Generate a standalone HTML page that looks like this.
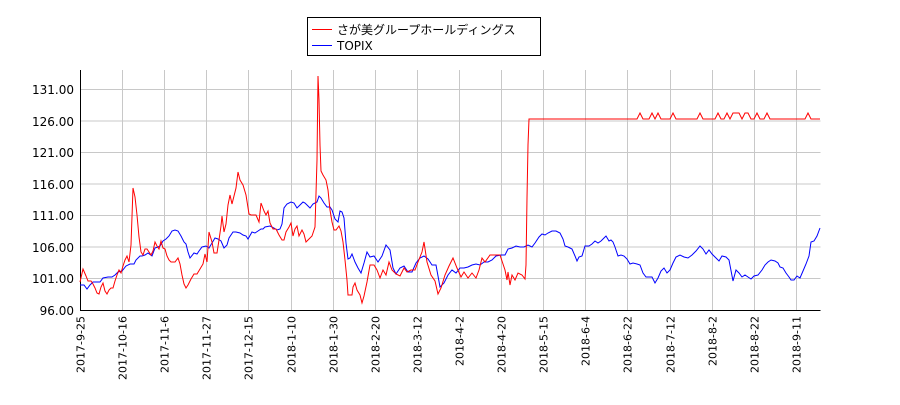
<!DOCTYPE html>
<html><head><meta charset="utf-8"><style>
body{margin:0;background:#fff;width:900px;height:400px;overflow:hidden;font-family:"Liberation Sans","DejaVu Sans",sans-serif}
</style></head><body>
<svg width="900" height="400" viewBox="0 0 900 400" xmlns="http://www.w3.org/2000/svg" font-family="'DejaVu Sans','Liberation Sans',sans-serif">
<rect width="900" height="400" fill="#fff"/>
<g stroke="#c8c8c8" stroke-width="1">
<line x1="80.5" y1="89.5" x2="820.5" y2="89.5"/><line x1="80.5" y1="121" x2="820.5" y2="121"/><line x1="80.5" y1="152.5" x2="820.5" y2="152.5"/><line x1="80.5" y1="184" x2="820.5" y2="184"/><line x1="80.5" y1="215.5" x2="820.5" y2="215.5"/><line x1="80.5" y1="247" x2="820.5" y2="247"/><line x1="80.5" y1="278.5" x2="820.5" y2="278.5"/>
<g>
<line x1="122.5" y1="70" x2="122.5" y2="310"/><line x1="164.5" y1="70" x2="164.5" y2="310"/><line x1="206.5" y1="70" x2="206.5" y2="310"/><line x1="248.5" y1="70" x2="248.5" y2="310"/><line x1="291.5" y1="70" x2="291.5" y2="310"/><line x1="333.5" y1="70" x2="333.5" y2="310"/><line x1="375.5" y1="70" x2="375.5" y2="310"/><line x1="417.5" y1="70" x2="417.5" y2="310"/><line x1="459.5" y1="70" x2="459.5" y2="310"/><line x1="501.5" y1="70" x2="501.5" y2="310"/><line x1="543.5" y1="70" x2="543.5" y2="310"/><line x1="585.5" y1="70" x2="585.5" y2="310"/><line x1="627.5" y1="70" x2="627.5" y2="310"/><line x1="670.5" y1="70" x2="670.5" y2="310"/><line x1="712.5" y1="70" x2="712.5" y2="310"/><line x1="754.5" y1="70" x2="754.5" y2="310"/><line x1="796.5" y1="70" x2="796.5" y2="310"/>
</g></g>
<g stroke="#000" stroke-width="1">
<line x1="80.5" y1="70" x2="80.5" y2="310.5"/><line x1="80" y1="310.5" x2="820.5" y2="310.5"/>
</g>
<g font-size="12" fill="#000" text-anchor="end">
<text x="74" y="94">131.00</text><text x="74" y="126">126.00</text><text x="74" y="157">121.00</text><text x="74" y="189">116.00</text><text x="74" y="220">111.00</text><text x="74" y="252">106.00</text><text x="74" y="283">101.00</text><text x="74" y="315">96.00</text>
</g>
<g font-size="11" fill="#000" text-anchor="end">
<text transform="translate(84.5,316) rotate(-90)">2017-9-25</text>
<text transform="translate(126.5,316) rotate(-90)">2017-10-16</text>
<text transform="translate(168.5,316) rotate(-90)">2017-11-6</text>
<text transform="translate(210.5,316) rotate(-90)">2017-11-27</text>
<text transform="translate(252.5,316) rotate(-90)">2017-12-15</text>
<text transform="translate(295.5,316) rotate(-90)">2018-1-10</text>
<text transform="translate(337.5,316) rotate(-90)">2018-1-30</text>
<text transform="translate(379.5,316) rotate(-90)">2018-2-20</text>
<text transform="translate(421.5,316) rotate(-90)">2018-3-12</text>
<text transform="translate(463.5,316) rotate(-90)">2018-4-2</text>
<text transform="translate(505.5,316) rotate(-90)">2018-4-20</text>
<text transform="translate(547.5,316) rotate(-90)">2018-5-15</text>
<text transform="translate(589.5,316) rotate(-90)">2018-6-4</text>
<text transform="translate(631.5,316) rotate(-90)">2018-6-22</text>
<text transform="translate(674.5,316) rotate(-90)">2018-7-12</text>
<text transform="translate(716.5,316) rotate(-90)">2018-8-2</text>
<text transform="translate(758.5,316) rotate(-90)">2018-8-22</text>
<text transform="translate(800.5,316) rotate(-90)">2018-9-11</text>
</g>
<polyline fill="none" stroke="#0000ff" stroke-width="1" points="80,285 84,285 87,289 90,285 93,282 97,282 100,282 103,278 108,277 112,277 115,275 118,272 122,271 126,266 130,264 134,264 136,260 140,256 142,256 145,255 148,253 152,256 155,248 158,247 160,246 163,241 166,239 169,236 172,231 175,230 178,231 181,236 184,242 186,244 188,252 190,258 194,253 197,254 199,251 202,247 206,246 209,248 212,243 215,238 218,239 221,241 224,248 227,245 229,238 233,232 236,232 240,233 243,235 246,236 248,239 252,232 255,233 258,231 261,229 263,229 265,227 270,226 274,228 277,230 280,229 282,224 284,208 287,204 291,202 294,203 297,208 300,205 303,202 305,203 308,206 310,208 313,204 317,202 319,196 321,198 324,203 327,207 330,207 332,210 335,219 338,222 340,211 342,212 344,218 346,243 348,259 350,258 352,254 355,262 358,268 361,273 364,263 367,252 370,257 374,256 378,262 382,256 386,245 390,250 393,268 396,274 400,268 404,266 408,272 412,272 416,263 420,258 424,256 428,259 432,265 436,265 440,287 444,283 448,275 452,270 456,273 460,268 464,268 468,267 472,265 476,264 480,265 484,262 488,262 492,260 496,256 501,255 505,255 508,249 512,248 516,246 520,247 524,247 528,245 532,247 535,243 539,237 542,234 545,235 548,233 552,231 556,231 560,233 563,239 565,246 568,247 572,249 575,256 577,261 579,257 582,256 585,246 589,246 592,244 595,241 598,243 601,241 604,238 606,236 609,241 611,240 613,242 615,247 618,256 621,255 624,256 627,259 630,264 633,263 637,264 640,265 643,273 646,277 649,277 652,277 655,283 658,278 661,271 664,268 667,273 670,270 673,263 676,257 680,255 684,257 688,258 692,255 696,251 700,246 703,249 706,254 709,250 712,254 716,258 719,261 722,256 726,257 729,260 733,281 736,270 739,273 742,277 745,275 748,277 751,279 754,276 758,275 762,270 765,265 768,262 771,260 775,261 778,263 780,267 783,268 786,273 789,277 791,280 794,280 797,276 800,278 803,271 806,264 809,256 811,242 814,241 817,236 820,228"/>
<polyline fill="none" stroke="#ff0000" stroke-width="1" points="80,282 83,269 86,276 88,281 91,281 93,284 95,288 97,293 99,294 101,287 103,283 105,291 107,294 109,290 111,288 113,288 115,281 117,275 119,270 121,273 123,266 125,260 127,256 129,262 131,245 133,188 135,197 137,215 139,237 141,252 143,255 145,249 147,249 149,252 151,255 153,251 155,242 157,246 159,249 161,241 163,248 165,249 167,256 169,260 171,262 175,262 178,258 180,264 182,275 184,284 186,288 188,285 191,279 194,274 197,274 200,269 203,264 205,254 207,262 209,232 212,242 214,253 217,253 219,240 221,226 222,216 224,232 226,224 228,205 230,195 232,204 234,196 236,188 238,172 240,180 243,185 246,195 249,214 251,215 256,215 259,222 261,203 264,211 266,215 268,211 270,223 273,229 276,229 279,235 282,240 284,240 286,232 289,227 291,223 293,236 295,229 297,226 299,236 302,230 304,234 306,242 308,240 312,236 315,227 317,160 318,76 319,100 320,145 321,171 323,175 326,180 328,190 330,210 332,222 334,230 336,230 339,226 341,231 343,242 345,260 347,280 348,295 352,295 353,287 355,283 357,290 360,295 362,303 364,296 367,282 370,265 374,265 377,270 380,278 383,270 386,275 389,262 392,270 396,274 400,276 404,268 407,272 411,270 415,270 418,262 422,252 424,242 427,262 431,275 435,281 438,294 441,288 445,275 449,266 453,258 457,268 461,277 464,272 468,278 472,273 476,278 479,270 482,258 485,262 490,255 495,255 500,255 503,264 505,270 507,280 508,272 510,285 512,275 515,280 518,273 522,275 525,279 526,265 527,198 528,145 529,119 637,119 640,113 643,119 649,119 652,113 655,119 658,113 661,119 670,119 673,113 676,119 697,119 700,113 703,119 715,119 718,113 721,119 724,119 727,113 730,119 733,113 739,113 742,119 745,113 748,113 751,119 754,119 757,113 760,119 764,119 767,113 770,119 805,119 808,113 811,119 820,119"/>
<rect x="307.5" y="17.5" width="233" height="38" fill="#fff" stroke="#000" stroke-width="1"/>
<line x1="312" y1="29.5" x2="332" y2="29.5" stroke="#ff0000" stroke-width="1"/>
<line x1="312" y1="45.5" x2="332" y2="45.5" stroke="#0000ff" stroke-width="1"/>
<text x="337" y="34" font-size="12" font-family="'Liberation Sans','Noto Sans CJK JP',sans-serif">さが美グループホールディングス</text>
<text x="337" y="50" font-size="12">TOPIX</text>
</svg>
</body></html>
